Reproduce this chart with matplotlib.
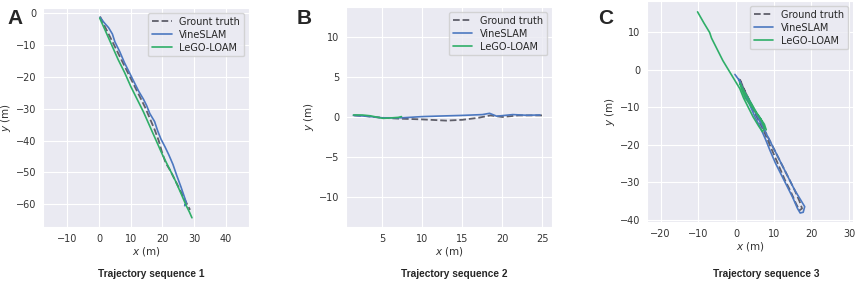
import matplotlib
matplotlib.use("Agg")
import matplotlib.pyplot as plt
import seaborn as sns

# ---- data (metres) ----
# sequence 1
gt1_x = [0.3, 1.5, 3.0, 4.5, 6.5, 8.5, 10.5, 12.5, 14.5, 16.0, 17.5, 18.8, 19.8, 21.0, 22.5, 24.0, 25.5, 27.0, 28.0, 28.7]
gt1_y = [-1.0, -3.5, -6.5, -9.5, -13.5, -17.5, -21.5, -25.5, -29.5, -33.0, -36.5, -40.0, -43.5, -47.0, -49.5, -52.5, -55.5, -58.5, -60.5, -61.8]
vs1_x = [0.3, 1.5, 3.0, 4.2, 5.0, 6.5, 8.0, 9.5, 11.0, 12.5, 14.0, 15.0, 16.0, 17.5, 18.5, 19.5, 20.8, 22.0, 23.3, 24.5, 25.8, 27.0, 27.5, 27.0, 27.3]
vs1_y = [-1.2, -2.8, -4.5, -6.5, -9.0, -12.0, -15.5, -18.5, -21.5, -24.5, -27.0, -29.0, -31.5, -34.0, -37.0, -39.5, -42.0, -44.5, -47.5, -51.0, -54.5, -58.0, -59.5, -60.5, -60.2]
lg1_x = [0.2, 2.0, 4.0, 6.0, 8.0, 10.0, 12.0, 14.0, 16.0, 18.0, 20.0, 22.0, 24.0, 26.0, 27.5, 28.5, 29.3]
lg1_y = [-1.5, -5.5, -10.0, -14.5, -18.5, -23.0, -27.0, -31.0, -35.5, -40.0, -44.5, -48.5, -52.5, -57.0, -60.5, -62.5, -64.3]

# sequence 2
gt2_x = [1.5, 3.0, 5.0, 7.0, 10.0, 13.0, 15.0, 17.0, 18.5, 20.0, 22.0, 25.0]
gt2_y = [0.2, 0.1, -0.1, -0.2, -0.3, -0.45, -0.35, -0.1, 0.2, 0.0, 0.2, 0.2]
vs2_x = [1.4, 3.0, 5.0, 7.5, 10.0, 12.2, 15.0, 17.5, 18.4, 19.3, 21.3, 23.0, 24.7]
vs2_y = [0.2, 0.1, -0.1, -0.1, 0.05, 0.12, 0.2, 0.3, 0.46, 0.1, 0.3, 0.22, 0.25]
lg2_x = [1.4, 2.5, 3.5, 4.5, 5.1, 6.0, 7.0, 7.4]
lg2_y = [0.25, 0.25, 0.15, -0.05, -0.17, -0.12, -0.05, 0.05]

# sequence 3
gt3_x = [1.0, 2.5, 4.0, 5.5, 7.0, 8.5, 10.0, 11.5, 13.0, 14.5, 15.8, 16.8, 17.5, 16.8, 15.5, 14.0, 12.5, 11.0, 9.5, 8.0, 6.5, 5.0, 3.5, 2.0, 1.2]
gt3_y = [-2.5, -6.0, -9.5, -12.5, -15.5, -19.0, -22.5, -26.0, -29.5, -32.5, -35.5, -37.5, -37.0, -35.0, -32.0, -29.0, -26.0, -23.0, -20.0, -17.0, -14.0, -11.0, -8.0, -5.0, -3.0]
vs3_x = [-0.3, 1.0, 2.0, 3.5, 5.0, 6.5, 8.0, 9.5, 11.0, 12.5, 14.0, 15.5, 17.0, 18.2, 17.8, 17.0, 16.3, 15.0, 13.5, 12.0, 10.5, 9.0, 7.8, 6.5, 5.0, 3.5, 2.0, 1.0, 0.8]
vs3_y = [-1.2, -3.0, -5.5, -8.0, -11.0, -14.0, -17.0, -20.0, -23.0, -26.0, -29.0, -32.0, -34.5, -36.5, -38.0, -38.2, -37.0, -34.0, -31.0, -28.0, -25.0, -21.5, -18.5, -15.5, -12.5, -9.0, -6.0, -3.5, -2.5]
lg3_x = [-10.2, -8.5, -7.0, -6.5, -5.0, -3.5, -2.0, -0.5, 1.0, 2.0, 3.0, 4.5, 6.0, 7.0, 7.5, 6.5, 5.0, 3.5, 2.5, 1.5, 1.0, 2.0, 3.5, 5.5, 7.5, 8.0]
lg3_y = [15.5, 12.5, 10.0, 8.5, 5.5, 2.5, 0.0, -2.5, -5.0, -7.5, -9.5, -12.5, -15.0, -16.5, -15.5, -13.0, -11.0, -9.0, -7.5, -5.0, -3.5, -5.5, -8.0, -11.5, -14.5, -16.0]

titles = ["Trajectory sequence 1", "Trajectory sequence 2", "Trajectory sequence 3"]
letters = ["A", "B", "C"]
gt_labels = ["Grount truth", "Ground truth", "Ground truth"]

sns.set_style("darkgrid")
plt.rcParams["font.family"] = ["DejaVu Sans"]

fig = plt.figure(figsize=(8.58, 2.81), dpi=100)
W, H = 858, 281


def px_axes(left, right, top, bottom):
    return fig.add_axes([left / W, 1 - bottom / H, (right - left) / W, (bottom - top) / H])


axes = [px_axes(43, 249, 8, 227), px_axes(346, 552, 7, 227), px_axes(647, 853, 1, 222)]
data = [
    (gt1_x, gt1_y, vs1_x, vs1_y, lg1_x, lg1_y),
    (gt2_x, gt2_y, vs2_x, vs2_y, lg2_x, lg2_y),
    (gt3_x, gt3_y, vs3_x, vs3_y, lg3_x, lg3_y),
]
limits = [((-17.7, 47.3), (-67.2, 1.7)), ((0.47, 26.2), (-13.7, 13.7)), ((-23.6, 31.0), (-40.6, 18.4))]
xticks = [range(-10, 41, 10), range(5, 26, 5), range(-20, 31, 10)]
yticks = [range(-60, 1, 10), range(-10, 11, 5), range(-40, 11, 10)]

for i, ax in enumerate(axes):
    gx, gy, vx, vy, lx, ly = data[i]
    ax.plot(gx, gy, color="#5f5f6a", ls="--", lw=1.3, label=gt_labels[i])
    ax.plot(vx, vy, color="#4c78c0", lw=1.2, label="VineSLAM")
    ax.plot(lx, ly, color="#2fae68", lw=1.2, label="LeGO-LOAM")
    ax.set_xlim(*limits[i][0])
    ax.set_ylim(*limits[i][1])
    ax.set_xticks(list(xticks[i]))
    ax.set_yticks(list(yticks[i]))
    ax.tick_params(labelsize=7, colors="#333333", pad=1.5)
    ax.set_xlabel(r"$x$ (m)", fontsize=7.5, labelpad=1, color="#333333")
    ax.set_ylabel(r"$y$ (m)", fontsize=7.5, labelpad=2, color="#333333")
    ax.legend(loc="upper right", fontsize=7, handlelength=2.0, borderpad=0.4,
              labelspacing=0.3, framealpha=0.8)

for x, t in zip([151, 454, 766], titles):
    fig.text(x / W, 1 - 277 / H, t, ha="center", va="baseline", fontsize=7.3,
             fontweight="bold", family="Liberation Sans")
for x, t in zip([7, 297, 598], letters):
    fig.text(x / W, 1 - 24 / H, t, ha="left", va="baseline", fontsize=15,
             fontweight="bold", family="Liberation Sans")

fig.savefig("out.png", dpi=100)
